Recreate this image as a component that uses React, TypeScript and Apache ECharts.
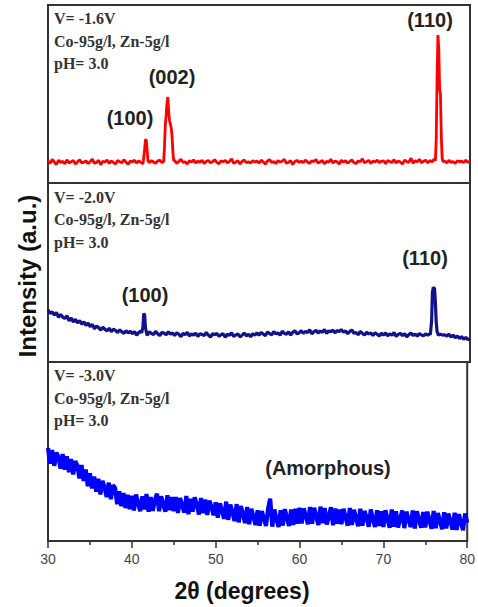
import React, { useEffect, useRef } from "react";
import * as echarts from "echarts";

const X_MIN = 30;
const X_MAX = 80;
const X_STEP = 0.25;
const xTicks = [30, 40, 50, 60, 70, 80];

// Top panel (V = -1.6 V) background counts, 30..80 step 0.25
const topBase = [
  125,110,132,118,104,128,115,122,108,130,112,120,126,106,119,131,113,117,124,109,
  121,134,111,116,127,103,122,118,129,110,124,115,107,126,120,113,131,117,105,123,
  119,128,112,125,116,108,127,121,114,126,118,111,123,129,115,120,124,117,122,113,
  127,110,121,133,115,119,106,125,118,130,112,123,117,128,109,122,126,114,120,131,
  116,108,124,119,127,113,121,135,110,118,125,107,122,129,114,120,111,126,118,123,
  112,128,119,106,124,131,115,120,109,126,118,122,133,111,117,125,104,121,127,116,
  123,114,129,118,110,125,120,132,113,119,127,108,122,116,134,112,124,119,107,128,
  117,126,111,121,130,115,109,124,119,136,113,120,127,110,123,118,129,114,122,125,
  108,127,120,115,131,112,124,118,106,129,121,116,140,111,125,119,133,114,122,128,
  113,126,119,135,117,122,121,118,124,113,127,116,120,110,125,119,123,114,128,117,
  121,
];
const topPeak100 = [[41.3,125],[41.45,190],[41.55,245],[41.65,240],[41.75,180],[41.85,125]];
const topPeak002 = [[43.7,120],[43.8,200],[43.9,330],[44.0,380],[44.1,450],[44.2,483],[44.3,400],[44.4,350],[44.5,330],[44.6,310],[44.7,260],[44.8,170],[44.9,125]];
const topPeak110 = [[75.9,125],[76.0,250],[76.1,600],[76.2,831],[76.3,760],[76.4,530],[76.5,500],[76.6,260],[76.7,140],[76.8,120]];

// Middle panel (V = -2.0 V)
const midBase = [
  292,271,280,262,277,249,266,251,243,258,230,246,224,238,219,231,212,225,204,218,
  197,210,186,201,192,178,195,182,174,189,170,183,176,164,180,168,160,175,163,171,
  158,170,150,165,172,155,163,149,168,160,153,171,158,147,166,161,152,169,156,162,
  148,163,155,141,160,152,166,145,157,150,162,143,158,154,147,165,150,139,158,152,
  160,144,152,158,138,155,149,163,142,151,157,140,150,162,146,155,141,158,150,163,
  150,165,156,147,168,159,152,170,157,163,149,172,160,155,168,151,166,175,158,162,
  175,160,171,164,180,158,169,177,162,173,166,182,160,174,169,178,163,176,170,181,
  166,174,158,170,179,160,165,152,171,160,150,166,157,162,148,163,155,145,160,151,
  162,146,157,150,165,143,155,160,147,158,140,153,162,148,156,144,159,151,147,157,
  150,158,145,153,160,148,156,150,152,145,155,140,150,136,145,131,142,127,138,125,
  130,
];
const midPeak100 = [[41.1,162],[41.25,200],[41.35,272],[41.45,262],[41.55,190],[41.7,158]];
const midPeak110 = [[75.3,152],[75.45,230],[75.55,390],[75.65,417],[75.8,410],[75.9,330],[76.0,220],[76.1,170],[76.25,150]];

// Bottom panel (V = -3.0 V)
const botBase = [
  520,432,508,420,494,468,404,486,398,474,384,458,372,446,422,350,424,336,400,306,
  378,294,360,276,348,260,336,300,246,326,234,312,296,206,278,194,268,184,258,178,
  252,170,260,210,166,250,176,262,164,246,168,228,264,166,250,205,164,256,172,246,
  166,246,156,240,198,160,252,150,236,164,244,204,148,240,156,232,146,226,190,144,
  216,130,210,170,124,220,118,204,160,112,206,104,196,150,100,190,94,180,135,90,
  172,86,168,125,84,180,236,80,176,122,78,172,86,178,130,84,176,90,180,96,
  186,98,182,140,94,190,96,186,135,90,192,100,184,92,140,188,88,182,96,176,
  94,180,130,86,184,90,174,125,82,180,86,168,130,80,176,120,78,172,84,166,
  78,172,122,74,176,80,166,76,124,170,72,164,120,78,170,70,166,118,74,162,
  76,164,115,68,168,72,156,112,66,160,70,154,108,64,158,62,150,104,60,154,
  102,
];

const panelNotes = [
  ["V= -1.6V", "Co-95g/l, Zn-5g/l", "pH= 3.0"],
  ["V= -2.0V", "Co-95g/l, Zn-5g/l", "pH= 3.0"],
  ["V= -3.0V", "Co-95g/l, Zn-5g/l", "pH= 3.0"],
];

function build(base: number[], peaks: number[][][]) {
  let pts = base.map((v, i) => [X_MIN + i * X_STEP, v]);
  pts = pts.filter(
    ([x]) => !peaks.some((p) => x >= p[0][0] && x <= p[p.length - 1][0])
  );
  peaks.forEach((p) => p.forEach((q) => pts.push([q[0], q[1]])));
  pts.sort((a, b) => a[0] - b[0]);
  return pts;
}

const GRID_LEFT = 48;
const GRID_RIGHT = 8;
const grids = [
  { top: 5, height: 178 },
  { top: 183, height: 179 },
  { top: 362, height: 179 },
];

export default function App() {
  const ref = useRef<HTMLDivElement>(null);
  useEffect(() => {
    if (!ref.current) return;
    const chart = echarts.init(ref.current, undefined, { renderer: "svg" });
    const serif = "'Liberation Serif', 'Times New Roman', serif";
    const sans = "'Liberation Sans', Arial, sans-serif";

    const noteTexts: any[] = [];
    const noteY = [[18, 41, 63], [197, 219, 242], [375, 398, 420]];
    panelNotes.forEach((lines, pi) =>
      lines.forEach((t, li) =>
        noteTexts.push({
          type: "text",
          x: 54,
          y: noteY[pi][li],
          style: {
            text: t,
            font: `bold 16px ${serif}`,
            fill: "#333",
            align: "left",
            verticalAlign: "middle",
          },
        })
      )
    );
    const peakLabel = (text: string, cx: number, cy: number) => ({
      type: "text",
      x: cx,
      y: cy,
      style: {
        text,
        font: `bold 20px ${sans}`,
        fill: "#222",
        align: "center",
        verticalAlign: "middle",
      },
    });

    const xAxisBase = (gi: number, show: boolean) => ({
      type: "value",
      gridIndex: gi,
      min: X_MIN,
      max: X_MAX,
      interval: 10,
      axisLine: { show, lineStyle: { color: "#333", width: 2 } },
      axisTick: { show, inside: false, length: 7, lineStyle: { color: "#333", width: 1.5 } },
      minorTick: { show, splitNumber: 2, length: 4, lineStyle: { color: "#333", width: 1.5 } },
      axisLabel: {
        show,
        fontSize: 14,
        color: "#444",
        fontFamily: sans,
        margin: 11,
        formatter: (v: number) => (xTicks.includes(v) ? String(v) : ""),
      },
      splitLine: { show: false },
    });
    const yAxisBase = (gi: number) => ({
      type: "value",
      gridIndex: gi,
      min: 0,
      max: 1000,
      show: false,
      splitLine: { show: false },
    });

    chart.setOption({
      animation: false,
      grid: grids.map((g) => ({
        left: GRID_LEFT,
        right: GRID_RIGHT,
        top: g.top,
        height: g.height,
        show: true,
        borderColor: "#333",
        borderWidth: 2,
        backgroundColor: "transparent",
      })),
      xAxis: [xAxisBase(0, false), xAxisBase(1, false), xAxisBase(2, true)],
      yAxis: [yAxisBase(0), yAxisBase(1), yAxisBase(2)],
      series: [
        {
          type: "line",
          xAxisIndex: 0,
          yAxisIndex: 0,
          data: build(topBase, [topPeak100, topPeak002, topPeak110]),
          showSymbol: false,
          lineStyle: { color: "#ff0000", width: 2.8 },
        },
        {
          type: "line",
          xAxisIndex: 1,
          yAxisIndex: 1,
          data: build(midBase, [midPeak100, midPeak110]),
          showSymbol: false,
          lineStyle: { color: "#12128a", width: 3.2 },
        },
        {
          type: "line",
          xAxisIndex: 2,
          yAxisIndex: 2,
          data: build(botBase, []),
          showSymbol: false,
          lineStyle: { color: "#0000ff", width: 4.2 },
        },
      ],
      graphic: [
        ...noteTexts,
        peakLabel("(100)", 130, 118),
        peakLabel("(002)", 172, 77),
        peakLabel("(110)", 430, 20),
        peakLabel("(100)", 145, 295),
        peakLabel("(110)", 425, 258),
        peakLabel("(Amorphous)", 328, 468),
        {
          type: "text",
          x: 242,
          y: 591,
          style: {
            text: "2θ (degrees)",
            font: `bold 23px ${sans}`,
            fill: "#111",
            align: "center",
            verticalAlign: "middle",
          },
        },
        {
          type: "text",
          x: 27,
          y: 276,
          rotation: Math.PI / 2,
          style: {
            text: "Intensity (a.u.)",
            font: `bold 24px ${sans}`,
            fill: "#111",
            align: "center",
            verticalAlign: "middle",
          },
        },
      ],
    });
    return () => chart.dispose();
  }, []);
  return (
    <div
      ref={ref}
      style={{ position: "absolute", left: 0, top: 0, width: 478, height: 607 }}
    />
  );
}
